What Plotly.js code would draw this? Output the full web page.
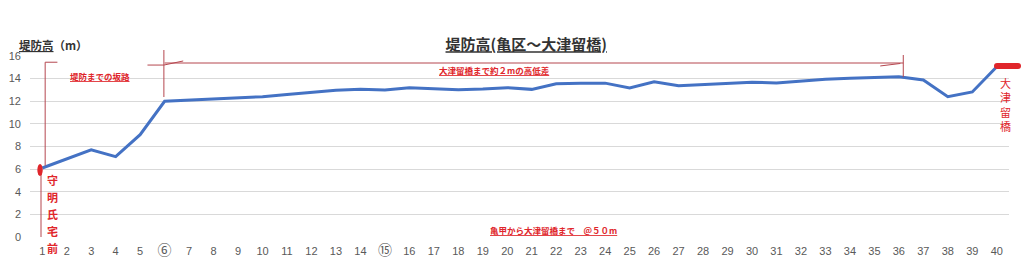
<!DOCTYPE html>
<html>
<head>
<meta charset="utf-8">
<script src="https://cdn.plot.ly/plotly-3.0.1.min.js"></script>
<style>html,body{margin:0;padding:0;background:#fff;}#chart{width:1024px;height:265px;}</style>
</head>
<body>
<div id="chart"></div>
<script>
// ---- data ----
const points = [1,2,3,4,5,6,7,8,9,10,11,12,13,14,15,16,17,18,19,20,21,22,23,24,25,26,27,28,29,30,31,32,33,34,35,36,37,38,39,40];
const tickLabels = ['1','2','3','4','5','⑥','7','8','9','10','11','12','13','14','⑮','16','17','18','19','20','21','22','23','24','25','26','27','28','29','30','31','32','33','34','35','36','37','38','39','40'];
const heights = [6.1,6.9,7.7,7.1,9.05,12.0,12.1,12.17,12.25,12.4,12.6,12.8,12.97,13.05,13.0,13.2,13.08,13.02,13.08,13.2,13.05,13.55,13.6,13.6,13.17,13.72,13.38,13.47,13.56,13.68,13.62,13.8,13.94,14.03,14.12,14.17,13.88,12.4,12.82,15.05];
const yTicks = [0,2,4,6,8,10,12,14,16];

const titleText = '<b><u>堤防高(亀区～大津留橋)</u></b>';
const yTitleText = '<b><u>堤防高</u>（m）</b>';
const startLabel = ['守','明','氏','宅','前'];
const endLabel = ['大','津','留','橋'];
const slopeNote = '<b><u>堤防までの坂路</u></b>';
const diffNote = '<b><u>大津留橋まで約２mの高低差</u></b>';
const spanNote = '<b><u>亀甲から大津留橋まで　＠５０m</u></b>';

// ---- layout helpers (pixel -> paper) ----
const W = 1024, H = 265, ML = 30, MR = 15, MT = 56, MB = 28;
const PW = W - ML - MR, PH = H - MT - MB;
const px = v => (v - ML) / PW;
const py = v => (H - MB - v) / PH;

const CJK = '"Noto Sans CJK JP", "Noto Sans", sans-serif';
const red = '#e0262b';
const lineRed = '#b5474f';

// circled labels drawn a little larger, as in the source
const tickText = tickLabels.map(t => /^[0-9]+$/.test(t) ? t : '<span style="font-size:14px">' + t + '</span>');

const annotations = [];
function ann(text, x, y, size, color, opts) {
  annotations.push(Object.assign({
    text: text, xref: 'paper', yref: 'paper', x: px(x), y: py(y),
    xanchor: 'center', yanchor: 'middle', showarrow: false,
    font: {family: CJK, size: size, color: color}
  }, opts || {}));
}
ann(yTitleText, 17, 45, 11.5, '#333333', {xanchor: 'left'});
startLabel.forEach((c, i) => ann('<b>' + c + '</b>', 52, 180 + i * 16.9, 11, red));
endLabel.forEach((c, i) => ann(c, 1005, 82.5 + i * 14.6, 11, red));
ann(slopeNote, 100, 76, 8.5, red);
ann(diffNote, 494, 69.5, 8.5, red);
ann(spanNote, 553, 230, 8.5, red);

const L = (x0, y0, x1, y1, xref, yref, extra) => Object.assign({
  type: 'line', xref: xref || 'x', yref: yref || 'y', x0: x0, y0: y0, x1: x1, y1: y1,
  line: {color: lineRed, width: 1}
}, extra || {});

const shapes = [
  // start marker vertical lines
  L(1.12, 6.3, 1.12, 15.45),
  L(0.95, 0, 0.95, 5.9),
  L(1.12, 15.45, 1.62, 15.45),
  // ramp end at point 6
  L(5.3, 15.2, 5.97, 15.2),
  L(5.97, py(97), 5.97, py(50), 'x', 'paper'),
  L(5.97, 15.2, 6.76, 15.56),
  // long elevation difference line
  L(6.0, 15.38, 36.18, 15.38),
  L(36.18, py(77), 36.18, py(55), 'x', 'paper'),
  L(35.24, 15.12, 36.06, 15.34),
  // red end markers
  {type: 'circle', xref: 'x', yref: 'y', x0: 0.8, x1: 1.02, y0: 5.4, y1: 6.45,
   fillcolor: red, line: {width: 0}},
  {type: 'rect', xref: 'paper', yref: 'y', x0: px(997), x1: px(1018), y0: 14.85, y1: 15.38,
   fillcolor: red, line: {width: 0}},
  {type: 'circle', xref: 'paper', yref: 'y', x0: px(994), x1: px(1000), y0: 14.85, y1: 15.38,
   fillcolor: red, line: {width: 0}},
  {type: 'circle', xref: 'paper', yref: 'y', x0: px(1015), x1: px(1021), y0: 14.85, y1: 15.38,
   fillcolor: red, line: {width: 0}}
];

const trace = {
  x: points, y: heights, type: 'scatter', mode: 'lines',
  line: {color: '#4472c4', width: 3}, hoverinfo: 'skip'
};

const layout = {
  width: W, height: H,
  margin: {l: ML, r: MR, t: MT, b: MB, pad: 0},
  paper_bgcolor: '#ffffff', plot_bgcolor: '#ffffff',
  showlegend: false,
  title: {text: titleText, x: 519 / W, xref: 'paper', xanchor: 'center',
          y: 1 - 45 / H, yref: 'container', yanchor: 'middle',
          font: {family: CJK, size: 15, color: '#333333'}},
  xaxis: {range: [0.5, 40.5], tickmode: 'array', tickvals: points, ticktext: tickText,
          showgrid: false, zeroline: false, showline: false, ticks: '',
          ticklabelstandoff: 6,
          tickfont: {family: '"Liberation Sans", "Noto Sans CJK JP", sans-serif', size: 11, color: '#595959'},
          fixedrange: true},
  yaxis: {range: [0, 16], tickmode: 'array', tickvals: yTicks,
          showgrid: true, gridcolor: '#d9d9d9', gridwidth: 1,
          zeroline: false, showline: false, ticks: '', ticklabelstandoff: 8,
          tickfont: {family: '"Liberation Sans", sans-serif', size: 11, color: '#595959'},
          fixedrange: true},
  annotations: annotations,
  shapes: shapes
};

Plotly.newPlot('chart', [trace], layout, {staticPlot: true, displayModeBar: false});
</script>
</body>
</html>
